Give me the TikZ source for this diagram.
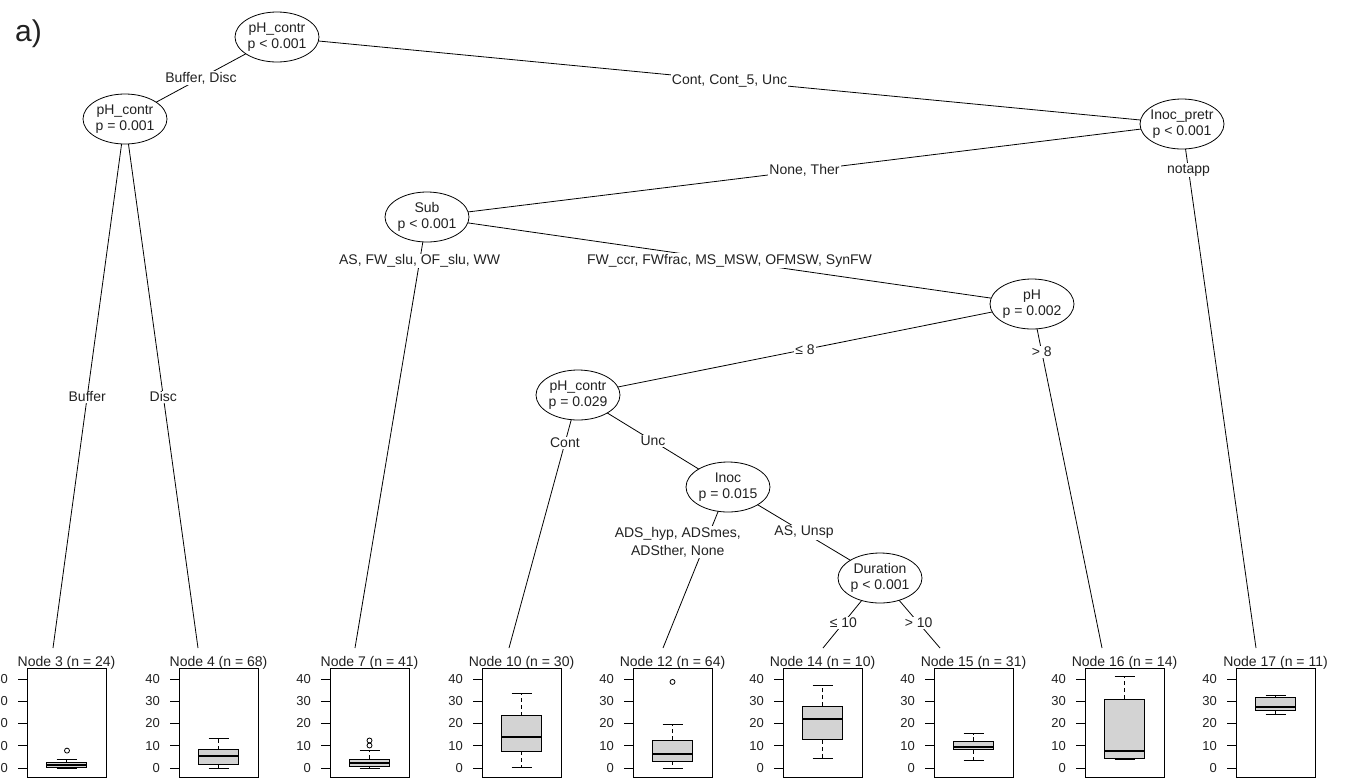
\documentclass[tikz,border=0pt]{standalone}
\usepackage{fontspec}
\setmainfont{Liberation Sans}
\usetikzlibrary{shapes.geometric,backgrounds}

\definecolor{boxgray}{HTML}{D3D3D3}
\definecolor{inkgray}{HTML}{222222}
\newcommand{\treefont}{\fontsize{14}{16}\selectfont}

% one terminal panel: id, left x, n, lower whisker, q1, median, q3, upper whisker
\newcommand{\bxpanel}[8]{%
  \node[nodelab] (lab#1) at ({#2+39.5},666.5) {Node #1 (n = #3)};
  \draw[frame] (#2,668) rectangle ({#2+79},777);
  \draw[frame] (#2,768) -- (#2,679);
  \foreach \v in {0,10,20,30,40} {
    \draw[frame] (#2,{768-2.225*\v}) -- ++(-9,0);
    \node[ticklab] (tk#1-\v) at ({#2-19},{768-2.225*\v}) {\v};
  }
  \draw[whisk] ({#2+39.5},{768-2.225*#7}) -- ({#2+39.5},{768-2.225*#8});
  \draw[whisk] ({#2+39.5},{768-2.225*#5}) -- ({#2+39.5},{768-2.225*#4});
  \draw[frame] ({#2+29.5},{768-2.225*#8}) -- ({#2+49.5},{768-2.225*#8});
  \draw[frame] ({#2+29.5},{768-2.225*#4}) -- ({#2+49.5},{768-2.225*#4});
  \draw[frame, fill=boxgray] ({#2+19.5},{768-2.225*#5}) rectangle ({#2+59.5},{768-2.225*#7});
  \draw[median] ({#2+19.5},{768-2.225*#6}) -- ({#2+59.5},{768-2.225*#6});
}

\begin{document}
\begin{tikzpicture}[
  x=1pt, y=-1pt,
  test/.style={ellipse, draw, fill=white, line width=0.8pt, minimum width=84pt, minimum height=50pt,
    inner xsep=-2pt, inner ysep=0pt, align=center, font=\treefont, text=inkgray},
  edge/.style={line width=0.8pt},
  elab/.style={fill=white, inner sep=1pt, font=\treefont, text=inkgray},
  nodelab/.style={anchor=base, inner sep=0pt, font=\treefont, text=inkgray},
  ticklab/.style={anchor=east, inner sep=0pt, font=\fontsize{13}{15}\selectfont, text=inkgray},
  frame/.style={line width=0.8pt},
  whisk/.style={line width=0.8pt, dash pattern=on 4pt off 3pt},
  median/.style={line width=2.2pt}
]
  \useasboundingbox (0,0) rectangle (1349,780);
  \node[font=\fontsize{30}{32}\selectfont, text=inkgray] (panel) at (28.5,34) {a)};

  % inner nodes
  \node[test] (n1) at (277,37) {pH\_contr\\p < 0.001};
  \node[test] (n2) at (125,119) {pH\_contr\\p = 0.001};
  \node[test] (n5) at (1182,124) {Inoc\_pretr\\p < 0.001};
  \node[test] (n6) at (427,217) {Sub\\p < 0.001};
  \node[test] (n8) at (1032,304) {pH\\p = 0.002};
  \node[test] (n9) at (578,395) {pH\_contr\\p = 0.029};
  \node[test] (n11) at (728,487) {Inoc\\p = 0.015};
  \node[test] (n13) at (880,578) {Duration\\p < 0.001};

  % tops of the terminal panels
  \coordinate (t3) at (53,648);
  \coordinate (t4) at (198,648);
  \coordinate (t7) at (355,648);
  \coordinate (t10) at (509,648);
  \coordinate (t12) at (663,648);
  \coordinate (t14) at (823,648);
  \coordinate (t15) at (940,648);
  \coordinate (t16) at (1102,648);
  \coordinate (t17) at (1256,648);

  \begin{scope}[on background layer]
    \fill[white] (0,0) rectangle (1349,780);
    \draw[edge] (n1.center) -- node[elab] {Buffer, Disc} (n2.center);
    \draw[edge] (n1.center) -- node[elab] {Cont, Cont\_5, Unc} (n5.center);
    \draw[edge] (n2.center) -- node[elab, pos=0.525] {Buffer} (t3);
    \draw[edge] (n2.center) -- node[elab, pos=0.525] {Disc} (t4);
    \draw[edge] (n5.center) -- node[elab] {None, Ther} (n6.center);
    \draw[edge] (n5.center) -- node[elab, pos=0.088] {notapp} (t17);
    \draw[edge] (n6.center) -- node[elab, pos=0.102] {AS, FW\_slu, OF\_slu, WW} (t7);
    \draw[edge] (n6.center) -- node[elab] {FW\_ccr, FWfrac, MS\_MSW, OFMSW, SynFW} (n8.center);
    \draw[edge] (n8.center) -- node[elab] {≤ 8} (n9.center);
    \draw[edge] (n8.center) -- node[elab, pos=0.14] {> 8} (t16);
    \draw[edge] (n9.center) -- node[elab, pos=0.19] {Cont} (t10);
    \draw[edge] (n9.center) -- node[elab] {Unc} (n11.center);
    \draw[edge] (n11.center) -- node[elab, pos=0.342, xshift=-28pt, align=center] {ADS\_hyp, ADSmes,\\[2pt]ADSther, None} (t12);
    \draw[edge] (n11.center) -- node[elab] {AS, Unsp} (n13.center);
    \draw[edge] (n13.center) -- node[elab, pos=0.643] {≤ 10} (t14);
    \draw[edge] (n13.center) -- node[elab, pos=0.643] {> 10} (t15);
  \end{scope}

  % terminal boxplots
  \bxpanel{3}{27}{24}{0}{0.3}{1.35}{2.4}{3.9}
  \bxpanel{4}{179}{68}{0}{1.5}{5.5}{8.2}{13.5}
  \bxpanel{7}{330}{41}{0}{0.9}{2.1}{3.9}{7.8}
  \bxpanel{10}{482}{30}{0.45}{7.5}{13.9}{23.5}{33.7}
  \bxpanel{12}{633}{64}{0}{3.0}{6.3}{12.4}{19.5}
  \bxpanel{14}{783}{10}{4.5}{12.7}{22}{27.7}{37.2}
  \bxpanel{15}{934}{31}{3.4}{8.2}{9.3}{12}{15.4}
  \bxpanel{16}{1085}{14}{4.0}{4.5}{7.8}{31}{41.2}
  \bxpanel{17}{1236}{11}{24.3}{25.8}{27.4}{31.8}{32.7}

  % outliers
  \draw[frame] (67,750.6) circle[radius=2.5pt];
  \draw[frame] (369.5,745.5) circle[radius=2.5pt];
  \draw[frame] (369.5,740.5) circle[radius=2.5pt];
  \draw[frame] (672.5,681.9) circle[radius=2.5pt];
\end{tikzpicture}
\end{document}
